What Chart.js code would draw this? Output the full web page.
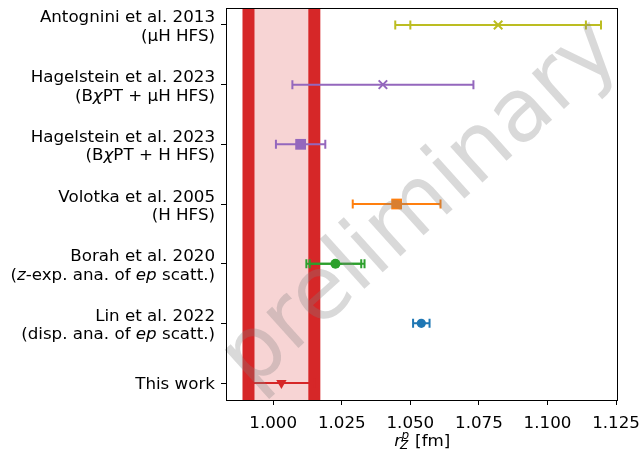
<!DOCTYPE html>
<html>
<head>
<meta charset="utf-8">
<script src="https://cdn.jsdelivr.net/npm/chart.js@4.4.0/dist/chart.umd.min.js"></script>
<style>
  html, body { margin: 0; padding: 0; background: #fff; }
  #wrap { width: 640px; height: 452px; }
</style>
</head>
<body>
<div id="wrap"><canvas id="chart" width="640" height="452"></canvas></div>
<script>
// tick labels, italic parts between *...*
const LABELS = [
  ['Antognini et al. 2013', '(μH HFS)'],
  ['Hagelstein et al. 2023', '(B*χ*PT + μH HFS)'],
  ['Hagelstein et al. 2023', '(B*χ*PT + H HFS)'],
  ['Volotka et al. 2005', '(H HFS)'],
  ['Borah et al. 2020', '(*z*-exp. ana. of *ep* scatt.)'],
  ['Lin et al. 2022', '(disp. ana. of *ep* scatt.)'],
  ['This work'],
];
const CENTERS = [1.082, 1.040, 1.010, 1.045, 1.0227, 1.054, 1.003];
const ERR_INNER = [0.032, 0.033, 0.009, 0.016, 0.0094, 0.003, 0.012];
const ERR_OUTER = [0.0375, null, null, null, 0.0106, null, null];
const BAND = [0.991, 1.015];
const X_TICKS = [1.000, 1.025, 1.050, 1.075, 1.100, 1.125];
const X_RANGE = [0.9828, 1.1257];

const COLORS = ['#bcbd22', '#9467bd', '#9467bd', '#ff7f0e', '#2ca02c', '#1f77b4', '#d62728'];
const MARKERS = ['crossRot', 'crossRot', 'rect', 'rect', 'circle', 'circle', 'triangle'];
const MARKER_SIZE = { crossRot: 6, rect: 7.6, circle: 5, triangle: 6 };

const FONT = 'DejaVu Sans';
const FS = 16.7;

const bandPlugin = {
  id: 'band',
  beforeDatasetsDraw(chart) {
    const { ctx, chartArea: a, scales: { x } } = chart;
    const x0 = x.getPixelForValue(BAND[0]);
    const x1 = x.getPixelForValue(BAND[1]);
    ctx.save();
    ctx.beginPath();
    ctx.rect(a.left, a.top, a.right - a.left, a.bottom - a.top);
    ctx.clip();
    ctx.fillStyle = 'rgba(214, 39, 40, 0.2)';
    ctx.fillRect(x0, a.top, x1 - x0, a.bottom - a.top);
    ctx.strokeStyle = '#d62728';
    ctx.lineWidth = 12;
    ctx.beginPath();
    ctx.moveTo(x0, a.top); ctx.lineTo(x0, a.bottom);
    ctx.moveTo(x1, a.top); ctx.lineTo(x1, a.bottom);
    ctx.stroke();
    ctx.restore();
  },
};

const errorBarPlugin = {
  id: 'errorBars',
  beforeDatasetsDraw(chart) {
    const { ctx, scales: { x, y } } = chart;
    ctx.save();
    ctx.lineWidth = 2;
    CENTERS.forEach((c, i) => {
      const py = y.getPixelForValue(i);
      ctx.strokeStyle = COLORS[i];
      [ERR_INNER[i], ERR_OUTER[i]].forEach((e) => {
        if (e == null) return;
        const x0 = x.getPixelForValue(c - e);
        const x1 = x.getPixelForValue(c + e);
        ctx.beginPath();
        ctx.moveTo(x0, py); ctx.lineTo(x1, py);
        ctx.moveTo(x0, py - 4.5); ctx.lineTo(x0, py + 4.5);
        ctx.moveTo(x1, py - 4.5); ctx.lineTo(x1, py + 4.5);
        ctx.stroke();
      });
    });
    ctx.restore();
  },
};

function drawRich(ctx, text, right, baseline) {
  const parts = text.split('*').map((t, k) => ({ t, italic: k % 2 === 1 }));
  const fontOf = (p) => (p.italic ? 'italic ' : '') + FS + 'px ' + FONT;
  let total = 0;
  parts.forEach((p) => { ctx.font = fontOf(p); total += ctx.measureText(p.t).width; });
  let px = right - total;
  parts.forEach((p) => {
    ctx.font = fontOf(p);
    ctx.fillText(p.t, px, baseline);
    px += ctx.measureText(p.t).width;
  });
}

const textPlugin = {
  id: 'texts',
  afterDatasetsDraw(chart) {
    const { ctx, chartArea: a, scales: { y } } = chart;
    ctx.save();

    // watermark
    ctx.save();
    ctx.translate((a.left + a.right) / 2, (a.top + a.bottom) / 2 + 2);
    ctx.rotate(-42 * Math.PI / 180);
    ctx.font = '88px ' + FONT;
    ctx.fillStyle = 'rgba(128, 128, 128, 0.3)';
    ctx.textAlign = 'center';
    ctx.textBaseline = 'middle';
    ctx.fillText('preliminary', 0, 0);
    ctx.restore();

    // frame
    ctx.strokeStyle = '#000';
    ctx.lineWidth = 1;
    ctx.strokeRect(a.left + 0.5, a.top + 0.5, a.right - a.left - 1, a.bottom - a.top);

    // y labels
    ctx.fillStyle = '#000';
    ctx.textAlign = 'left';
    ctx.textBaseline = 'alphabetic';
    LABELS.forEach((lines, i) => {
      const py = y.getPixelForValue(i);
      if (lines.length === 1) {
        drawRich(ctx, lines[0], a.left - 11, py + 6);
      } else {
        drawRich(ctx, lines[0], a.left - 11, py - 2.5);
        drawRich(ctx, lines[1], a.left - 11, py + 16);
      }
    });

    // x axis title: r_Z^p [fm]
    const base = 446;
    ctx.font = 'italic ' + FS + 'px ' + FONT;
    const wr = ctx.measureText('r').width;
    ctx.font = 'italic 12px ' + FONT;
    const ws = Math.max(ctx.measureText('p').width, ctx.measureText('Z').width);
    ctx.font = FS + 'px ' + FONT;
    const wf = ctx.measureText(' [fm]').width;
    let tx = (a.left + a.right) / 2 - (wr + ws + wf) / 2;
    ctx.font = 'italic ' + FS + 'px ' + FONT;
    ctx.fillText('r', tx, base);
    tx += wr + 0.5;
    ctx.font = 'italic 12px ' + FONT;
    ctx.fillText('p', tx, base - 7);
    ctx.fillText('Z', tx - 1.5, base + 3);
    tx += ws;
    ctx.font = FS + 'px ' + FONT;
    ctx.fillText(' [fm]', tx, base);

    ctx.restore();
  },
};

const datasets = CENTERS.map((c, i) => ({
  label: LABELS[i].join(' '),
  data: [{ x: c, y: i }],
  pointStyle: MARKERS[i],
  pointRadius: MARKERS[i] === 'circle' && i === 5 ? 4.6 : MARKER_SIZE[MARKERS[i]],
  pointRotation: MARKERS[i] === 'triangle' ? 180 : 0,
  backgroundColor: COLORS[i],
  borderColor: COLORS[i],
  borderWidth: MARKERS[i] === 'crossRot' ? 2 : 0,
}));

new Chart(document.getElementById('chart'), {
  type: 'scatter',
  data: { datasets },
  options: {
    responsive: false,
    animation: false,
    devicePixelRatio: 1,
    layout: { padding: { left: 0, right: 22, top: 7, bottom: 0 } },
    plugins: {
      legend: { display: false },
      tooltip: { enabled: false },
    },
    scales: {
      x: {
        type: 'linear',
        min: X_RANGE[0],
        max: X_RANGE[1],
        afterBuildTicks: (scale) => { scale.ticks = X_TICKS.map((v) => ({ value: v })); },
        afterFit: (scale) => {
          scale.height = 52;
          scale.paddingLeft = 0;
          scale.paddingRight = 0;
        },
        border: { display: false },
        grid: { drawOnChartArea: false, drawTicks: true, tickLength: 5, color: '#000', lineWidth: 1 },
        ticks: {
          autoSkip: false,
          maxRotation: 0,
          padding: 9,
          color: '#000',
          font: { family: FONT, size: FS },
          callback: (v) => Number(v).toFixed(3),
        },
      },
      y: {
        type: 'linear',
        min: -0.284,
        max: 6.284,
        reverse: true,
        afterBuildTicks: (scale) => { scale.ticks = LABELS.map((_, i) => ({ value: i })); },
        afterFit: (scale) => {
          scale.width = 226;
          scale.paddingTop = 0;
          scale.paddingBottom = 0;
        },
        border: { display: false },
        grid: { drawOnChartArea: false, drawTicks: true, tickLength: 5, color: '#000', lineWidth: 1 },
        ticks: { display: true, font: { size: 1 }, callback: () => '' },
      },
    },
  },
  plugins: [bandPlugin, errorBarPlugin, textPlugin],
});
</script>
</body>
</html>
